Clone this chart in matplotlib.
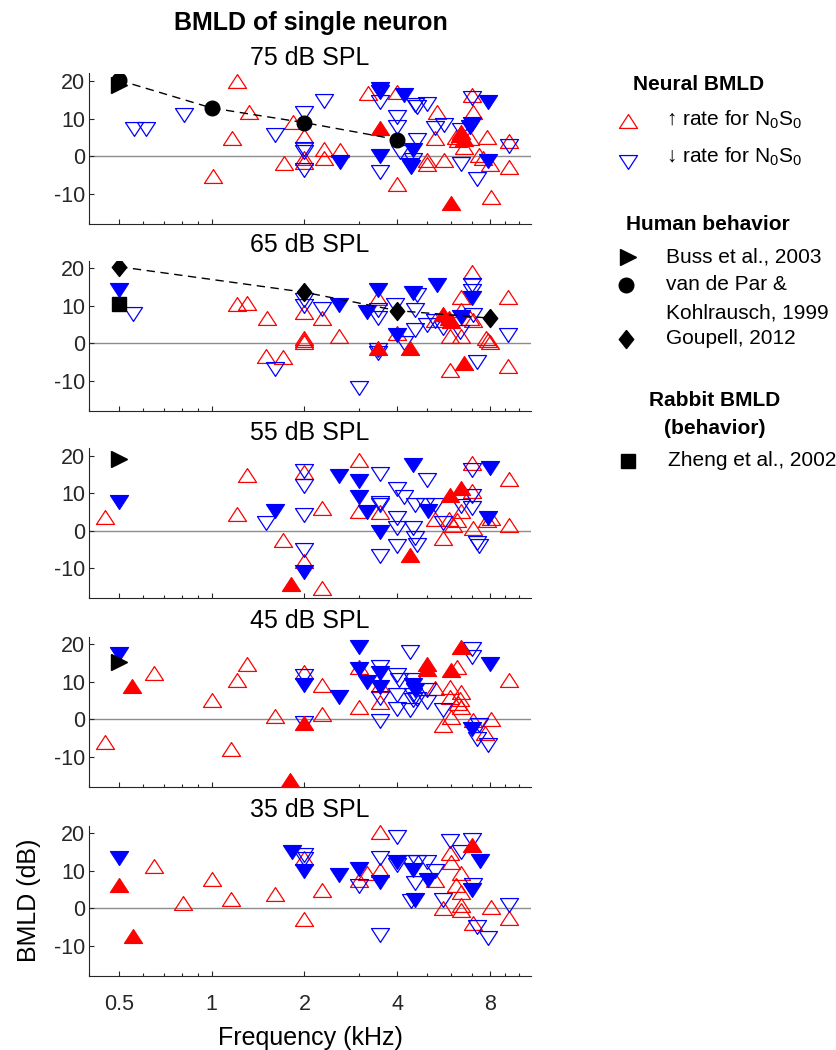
import numpy as np
import matplotlib
matplotlib.use("Agg")
import matplotlib.pyplot as plt
from matplotlib.ticker import LogLocator, NullFormatter, FixedLocator, FixedFormatter

plt.rcParams['font.family'] = ['Liberation Sans', 'DejaVu Sans']
plt.rcParams['mathtext.fontset'] = 'custom'
plt.rcParams['mathtext.rm'] = 'Liberation Sans'
plt.rcParams['mathtext.it'] = 'Liberation Sans'
plt.rcParams['axes.unicode_minus'] = False

LEVELS = [75, 65, 55, 45, 35]

# neural BMLD, (frequency kHz, BMLD dB)
UP_OPEN_75 = [(1.01, -5.3), (1.165, 4.7), (1.21, 19.9), (1.32, 11.8), (1.72, -1.9), (1.83, 9.0),
              (2.0, 5.3), (2.0, -0.5), (2.0, -1.5), (2.31, 2.0), (2.31, -0.4), (2.61, 1.6),
              (3.23, 16.9), (4.0, 17.2), (4.0, -7.5), (5.0, -1.1), (5.0, -2.0), (5.39, 11.8),
              (5.32, 4.7), (5.68, -1.1), (7.0, 16.3), (7.07, 11.8), (6.3, 4.3), (6.6, 2.5),
              (6.9, 4.7), (6.2, 5.2), (7.84, 5.2), (7.4, 0.3), (7.6, -0.6), (8.0, -2.0),
              (8.1, -11.0), (9.22, 4.1), (9.22, -2.8)]
UP_FILL_75 = [(3.53, 7.6), (6.46, 6.5), (6.4, 5.5), (6.6, 4.5), (6.0, -12.6)]
DN_OPEN_75 = [(0.56, 7.3), (0.61, 7.3), (0.81, 10.9), (1.61, 5.5), (2.0, 11.6), (2.31, 14.8),
              (2.0, 2.0), (2.0, 1.2), (2.0, -3.6), (3.53, 14.5), (3.53, -4.2), (4.0, 10.5),
              (4.0, 7.8), (4.1, 1.2), (4.58, 13.6), (4.64, 13.2), (5.0, 14.0), (4.64, 4.3),
              (4.5, -1.1), (5.32, 7.4), (5.68, 8.3), (6.46, -2.0), (7.0, 15.4), (6.46, 6.9),
              (7.3, -6.0), (9.22, 2.7)]
DN_FILL_75 = [(2.61, -1.5), (3.53, 18.0), (3.53, 17.2), (3.53, 0.0), (4.23, 16.3), (4.5, 1.6),
              (4.41, -2.4), (4.45, -3.0), (7.0, 8.5), (6.9, 7.8), (7.93, 14.5), (7.93, -1.2)]

UP_OPEN_65 = [(1.205, 10.5), (1.30, 10.8), (1.51, 6.7), (1.50, -3.4), (1.70, -3.6), (2.0, 8.4),
              (2.0, 1.5), (2.0, 0.9), (2.0, 0.3), (2.29, 6.7), (2.6, 1.8), (3.48, 12.0),
              (4.0, 2.7), (5.3, 6.2), (5.96, -7.1), (5.96, 1.8), (6.47, 12.4), (6.47, 8.9),
              (6.47, 1.8), (7.0, 19.1), (7.08, 6.2), (6.9, 6.7), (7.8, 1.3), (7.9, 0.9),
              (8.0, 0.4), (9.2, 12.4), (9.2, -6.2)]
UP_FILL_65 = [(3.48, -1.2), (4.41, -1.3), (5.66, 7.7), (5.9, 6.7), (6.0, 5.8), (6.58, -5.3)]
DN_OPEN_65 = [(0.554, 7.8), (1.60, -6.9), (2.0, 11.6), (2.0, 9.8), (2.29, 9.2), (3.0, -12.0),
              (3.48, 8.9), (3.48, 6.8), (3.48, -1.8), (3.48, -2.7), (3.94, 10.2), (4.2, 0.0),
              (4.64, 12.9), (4.58, 8.9), (4.58, 3.6), (5.0, 4.9), (5.3, 5.8), (5.66, 4.0),
              (6.4, 3.1), (7.0, 15.6), (7.0, 13.8), (7.08, 7.6), (7.3, -4.9), (9.2, 2.2)]
DN_FILL_65 = [(0.5, 14.2), (2.6, 10.2), (3.19, 8.4), (3.48, 14.2), (4.0, 2.2), (4.5, 13.3),
              (5.4, 15.4), (6.47, 7.1), (7.0, 12.0)]

UP_OPEN_55 = [(0.451, 3.6), (1.21, 4.5), (1.30, 14.9), (1.70, -2.4), (2.0, 15.6), (2.0, -8.2),
              (2.29, 6.0), (2.29, -15.3), (3.0, 18.9), (3.0, 5.2), (3.51, 4.9), (5.3, 3.1),
              (5.66, -2.0), (5.9, 3.1), (6.1, 1.6), (6.28, 2.9), (6.47, 5.2), (7.0, 18.0),
              (7.0, 10.5), (7.08, 0.7), (7.84, 2.9), (8.1, 3.4), (9.22, 13.8), (9.22, 1.6)]
UP_FILL_55 = [(1.81, -14.2), (4.41, -6.4), (5.96, 9.6), (6.45, 11.4)]
DN_OPEN_55 = [(1.50, 2.0), (2.0, 15.8), (2.0, 11.8), (2.0, 4.3), (2.0, -5.1), (3.51, 15.2),
              (3.51, 7.4), (3.51, 6.8), (3.51, -6.8), (4.0, 11.1), (4.2, 9.0), (4.0, 3.4),
              (4.0, 0.7), (4.0, -4.2), (4.58, 6.9), (4.5, 0.7), (4.58, -2.0), (4.64, -3.7),
              (5.0, 13.6), (4.93, 6.9), (5.3, 6.9), (5.66, 2.0), (6.47, 6.5), (7.0, 16.3),
              (7.0, 9.2), (7.0, 6.0), (7.3, -3.3), (7.4, -4.2)]
DN_FILL_55 = [(0.5, 7.6), (1.61, 5.2), (2.0, -11.1), (2.6, 14.5), (3.0, 13.2), (3.0, 9.0),
              (3.19, 5.0), (3.51, -0.4), (4.5, 17.6), (5.05, 5.2), (8.0, 16.7), (7.93, 3.4)]

UP_OPEN_45 = [(0.451, -6.0), (0.651, 12.2), (1.0, 5.1), (1.153, -7.8), (1.205, 10.4), (1.30, 14.8),
              (1.61, 0.8), (2.0, 12.6), (2.29, 9.1), (2.29, 1.5), (3.0, 14.0), (3.0, 3.3),
              (3.51, 9.1), (3.51, 4.6), (5.3, 8.2), (5.66, -1.6), (5.96, 8.6), (5.96, 6.0),
              (6.0, 0.6), (6.28, 14.0), (6.47, 7.3), (6.4, 5.5), (6.3, 4.2), (6.47, 3.3),
              (7.08, -0.3), (7.75, -3.8), (8.07, 0.0), (9.22, 10.4)]
UP_FILL_45 = [(0.552, 8.9), (1.80, -16.2), (2.0, -0.9), (5.0, 14.8), (5.0, 13.5), (6.0, 13.1),
              (6.45, 19.3)]
DN_OPEN_45 = [(2.0, 11.6), (2.0, -0.9), (3.51, 14.0), (3.51, 5.7), (3.51, -0.5), (4.0, 11.7),
              (4.05, 10.4), (4.0, 6.4), (4.0, 2.7), (4.4, 17.8), (4.5, 10.4), (4.5, 6.4),
              (4.5, 5.1), (4.41, 2.4), (4.64, 5.5), (5.0, 7.7), (5.0, 4.6), (5.66, 2.4),
              (7.0, 18.8), (7.0, 16.6), (7.3, -5.2), (7.4, -1.6), (7.93, -6.8)]
DN_FILL_45 = [(0.5, 17.5), (2.0, 9.1), (2.6, 6.0), (3.0, 19.3), (3.0, 13.3), (3.19, 10.0),
              (3.51, 12.2), (3.51, 8.6), (4.5, 9.1), (4.58, 7.7), (7.0, -2.5), (8.0, 14.8)]

UP_OPEN_35 = [(0.651, 11.2), (0.807, 1.3), (1.0, 7.9), (1.153, 2.5), (1.61, 3.7), (2.0, 13.3),
              (2.0, -2.9), (2.29, 4.9), (3.0, 7.6), (3.19, 9.5), (3.51, 20.2), (3.51, 10.2),
              (5.32, 7.6), (5.66, 0.0), (5.96, 14.7), (6.0, 12.4), (6.47, 9.3), (6.2, 6.2),
              (6.47, 4.4), (6.47, 0.9), (6.47, -0.4), (7.08, -4.0), (8.07, 0.3), (9.22, -2.7)]
UP_FILL_35 = [(0.5, 6.3), (0.554, -7.4), (7.0, 16.9)]
DN_OPEN_35 = [(2.0, 14.2), (2.0, 13.0), (3.0, 5.8), (3.51, 13.3), (3.51, -7.1), (4.0, 19.1),
              (4.0, 11.6), (4.36, 12.4), (4.64, 12.4), (5.0, 12.4), (4.58, 6.7), (4.45, 1.8),
              (5.32, 9.8), (5.66, 2.2), (5.96, 17.8), (6.47, 15.1), (7.0, 18.2), (7.08, 6.2),
              (7.3, -5.1), (7.93, -8.0), (9.22, 0.9)]
DN_FILL_35 = [(0.5, 13.3), (1.82, 15.0), (2.0, 9.8), (2.6, 8.9), (3.0, 10.4), (3.51, 7.1),
              (4.0, 12.4), (4.5, 10.2), (4.58, 2.2), (5.05, 7.6), (7.0, 4.9), (7.45, 12.7)]

NEURAL = {
    75: (UP_OPEN_75, UP_FILL_75, DN_OPEN_75, DN_FILL_75),
    65: (UP_OPEN_65, UP_FILL_65, DN_OPEN_65, DN_FILL_65),
    55: (UP_OPEN_55, UP_FILL_55, DN_OPEN_55, DN_FILL_55),
    45: (UP_OPEN_45, UP_FILL_45, DN_OPEN_45, DN_FILL_45),
    35: (UP_OPEN_35, UP_FILL_35, DN_OPEN_35, DN_FILL_35),
}

# behavioral data
VDP_FREQ = [0.5, 1, 2, 4]
VDP_BMLD = [20.2, 12.8, 8.9, 4.4]
GOUPELL_FREQ = [0.5, 2, 4, 8]
GOUPELL_BMLD = [20.4, 13.6, 8.7, 6.7]
BUSS = {75: 19.0, 55: 19.2, 45: 15.3}
ZHENG_FREQ = 0.5
ZHENG_BMLD = 10.5

XTICKS = [0.5, 1, 2, 4, 8]
XTICKLABELS = ['0.5', '1', '2', '4', '8']
YTICKS = [-10, 0, 10, 20]

UP = [(0, 1), (-1.3, -1), (1.3, -1), (0, 1)]
DN = [(0, -1), (-1.3, 1), (1.3, 1), (0, -1)]
DIAM = [(0, 1), (0.8, 0), (0, -1), (-0.8, 0), (0, 1)]
AX_COL = '#262626'
MS = 13

fig = plt.figure(figsize=(8.37, 10.5), dpi=100)
bottoms = [0.7871, 0.6088, 0.4303, 0.2507, 0.0707]


def scatter(ax, pts, marker, color, filled):
    if not pts:
        return
    f, b = zip(*pts)
    ax.plot(f, b, linestyle='none', marker=marker, ms=MS, mew=0.9, mec=color,
            mfc=color if filled else 'none', zorder=3, clip_on=False)


for i, lev in enumerate(LEVELS):
    ax = fig.add_axes([0.1067, bottoms[i], 0.5277, 0.1429])
    ax.axhline(0, color='#8c8c8c', lw=1, zorder=1)
    up_o, up_f, dn_o, dn_f = NEURAL[lev]
    scatter(ax, up_o, UP, 'red', False)
    scatter(ax, dn_o, DN, 'blue', False)
    scatter(ax, up_f, UP, 'red', True)
    scatter(ax, dn_f, DN, 'blue', True)

    if lev in BUSS:
        ax.plot([0.5], [BUSS[lev]], linestyle='none', marker='>', ms=11, color='black', zorder=4)
    if lev == 75:
        ax.plot(VDP_FREQ, VDP_BMLD, '--', color='black', lw=1, dashes=(6, 4), zorder=4)
        ax.plot(VDP_FREQ, VDP_BMLD, linestyle='none', marker='o', ms=10.5, color='black', zorder=5)
    if lev == 65:
        ax.plot(GOUPELL_FREQ, GOUPELL_BMLD, '--', color='black', lw=1, dashes=(6, 4), zorder=4)
        ax.plot(GOUPELL_FREQ, GOUPELL_BMLD, linestyle='none', marker=DIAM, ms=13, color='black', zorder=5)
        ax.plot([ZHENG_FREQ], [ZHENG_BMLD], linestyle='none', marker='s', ms=9.5, color='black', zorder=5)

    ax.set_xscale('log')
    ax.set_xlim(0.4, 10.9)
    ax.set_ylim(-18, 22)
    ax.xaxis.set_major_locator(FixedLocator(XTICKS))
    ax.xaxis.set_minor_locator(LogLocator(base=10, subs=np.arange(1, 10)))
    ax.xaxis.set_minor_formatter(NullFormatter())
    if i == len(LEVELS) - 1:
        ax.xaxis.set_major_formatter(FixedFormatter(XTICKLABELS))
        ax.set_xlabel('Frequency (kHz)', fontsize=18, labelpad=8)
        ax.set_ylabel('BMLD (dB)', fontsize=18, labelpad=9)
    else:
        ax.xaxis.set_major_formatter(NullFormatter())
    ax.set_yticks(YTICKS)
    ax.tick_params(which='major', direction='in', length=3.6, width=0.8, colors=AX_COL,
                   labelsize=15.5, labelcolor=AX_COL)
    ax.tick_params(axis='x', which='major', pad=13)
    ax.tick_params(axis='y', which='major', pad=3)
    ax.tick_params(which='minor', direction='in', length=2, width=0.8, colors=AX_COL)
    for s in ['top', 'right']:
        ax.spines[s].set_visible(False)
    for s in ['left', 'bottom']:
        ax.spines[s].set_color(AX_COL)
        ax.spines[s].set_linewidth(0.8)
    ax.set_title(f'{lev} dB SPL', fontsize=18, pad=6)

fig.text(0.372, 0.978, 'BMLD of single neuron', ha='center', va='center',
         fontsize=18, fontweight='bold')

# legend panel
lg = fig.add_axes([0, 0, 1, 1], facecolor='none')
lg.set_xlim(0, 837)
lg.set_ylim(1050, 0)
lg.axis('off')
mx = 628
tx = 666
lg.text(699, 85, 'Neural BMLD', ha='center', va='center', fontsize=15, fontweight='bold')
lg.plot([mx], [121], marker=UP, ms=13, mfc='none', mec='red', mew=0.9)
lg.text(tx, 120, r'↑ rate for N$_0$S$_0$', va='center', fontsize=15)
lg.plot([mx], [162], marker=DN, ms=13, mfc='none', mec='blue', mew=0.9)
lg.text(tx, 157, r'↓ rate for N$_0$S$_0$', va='center', fontsize=15)
lg.text(708, 224, 'Human behavior', ha='center', va='center', fontsize=15, fontweight='bold')
lg.plot([mx], [257], marker='>', ms=11, color='black')
lg.text(tx, 257, 'Buss et al., 2003', va='center', fontsize=15)
lg.plot([mx - 2], [285], marker='o', ms=10.5, color='black')
lg.text(tx, 285, 'van de Par &', va='center', fontsize=15)
lg.text(tx, 313, 'Kohlrausch, 1999', va='center', fontsize=15)
lg.plot([mx - 2], [339], marker=DIAM, ms=13, color='black')
lg.text(tx, 339, 'Goupell, 2012', va='center', fontsize=15)
lg.text(715, 401, 'Rabbit BMLD', ha='center', va='center', fontsize=15, fontweight='bold')
lg.text(715, 428, '(behavior)', ha='center', va='center', fontsize=15, fontweight='bold')
lg.plot([mx], [461], marker='s', ms=9.5, color='black')
lg.text(tx + 2, 461, 'Zheng et al., 2002', va='center', fontsize=15)

fig.savefig('out.png', dpi=100)
